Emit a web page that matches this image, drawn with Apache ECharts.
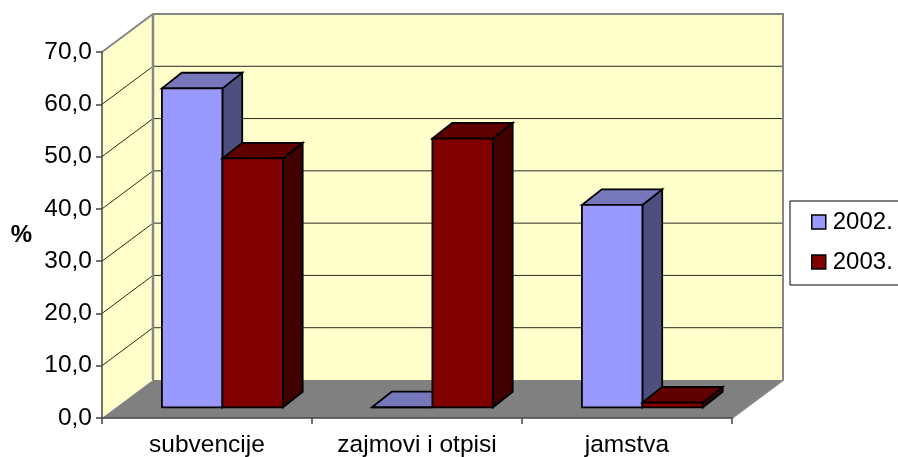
<!DOCTYPE html>
<html>
<head>
<meta charset="utf-8">
<style>html,body{margin:0;padding:0;background:#fff}#main{width:898px;height:457px}</style>
<script src="https://cdn.jsdelivr.net/npm/echarts@6/dist/echarts.min.js"></script>
</head>
<body>
<div id="main"></div>
<script>
var categories = ['subvencije', 'zajmovi i otpisi', 'jamstva'];
var values2002 = [61.0, 0, 38.7];
var values2003 = [47.6, 51.4, 0.9];
var yTicks = [10, 20, 30, 40, 50, 60];

var chart = echarts.init(document.getElementById('main'));

// depth of the box and of the bars, in px
var wallDx = 51, wallDy = -38;
var barStartDx = 15.4, barStartDy = -10.7;
var barDx = 19.8, barDy = -15.6;
var barShare = 0.288;
var font = 'Liberation Sans, Arial, sans-serif';

function poly(points, fill, stroke, width) {
    return {
        type: 'polygon',
        shape: { points: points },
        style: { fill: fill, stroke: stroke, lineWidth: width, lineJoin: 'miter' }
    };
}

function renderWalls(params, api) {
    var c = params.coordSys;
    var l = c.x, r = c.x + c.width, t = c.y, b = c.y + c.height;
    var children = [
        poly([[l, t], [l + wallDx, t + wallDy], [l + wallDx, b + wallDy], [l, b]], '#ffffcc', null, 0),
        poly([[l + wallDx, t + wallDy], [r + wallDx, t + wallDy], [r + wallDx, b + wallDy], [l + wallDx, b + wallDy]], '#ffffcc', null, 0)
    ];
    yTicks.forEach(function (v) {
        var y = api.coord([0, v])[1];
        children.push({ type: 'polyline', shape: { points: [[l, y], [l + wallDx, y + wallDy], [r + wallDx, y + wallDy]] },
            style: { fill: null, stroke: '#2b2b20', lineWidth: 1 } });
    });
    children.push(poly([[l, b], [r, b], [r + wallDx, b + wallDy], [l + wallDx, b + wallDy]], '#808080', null, 0));
    children.push({ type: 'polyline', shape: { points: [[l, t], [l + wallDx, t + wallDy], [r + wallDx, t + wallDy], [r + wallDx, b + wallDy], [r, b]] },
        style: { fill: null, stroke: '#868686', lineWidth: 2 } });
    children.push({ type: 'line', shape: { x1: l + wallDx, y1: t + wallDy, x2: l + wallDx, y2: b + wallDy },
        style: { stroke: '#868686', lineWidth: 2.5 } });
    return { type: 'group', children: children };
}

function barRenderer(index, front, top, side) {
    return function (params, api) {
        var base = api.coord([api.value(0), 0]);
        var head = api.coord([api.value(0), api.value(1)]);
        var w = api.size([1, 0])[0] * barShare;
        var x0 = base[0] + barStartDx + (index - 1) * w;
        var x1 = x0 + w;
        var yb = base[1] + barStartDy;
        var yt = head[1] + barStartDy;
        return {
            type: 'group',
            children: [
                poly([[x1, yt], [x1 + barDx, yt + barDy], [x1 + barDx, yb + barDy], [x1, yb]], side, '#000', 1.8),
                poly([[x0, yt], [x0 + barDx, yt + barDy], [x1 + barDx, yt + barDy], [x1, yt]], top, '#000', 1.8),
                poly([[x0, yt], [x1, yt], [x1, yb], [x0, yb]], front, '#000', 1.8)
            ]
        };
    };
}

chart.setOption({
    animation: false,
    backgroundColor: '#fff',
    grid: { left: 102, top: 52, width: 630, height: 366, outerBoundsMode: 'none' },
    legend: {
        left: 790, top: 201, orient: 'vertical',
        data: ['2002.', '2003.'],
        icon: 'rect',
        itemWidth: 14, itemHeight: 14, itemGap: 16,
        padding: [9, 8, 11, 21],
        backgroundColor: '#fff', borderColor: '#000', borderWidth: 1,
        itemStyle: { borderColor: '#000', borderWidth: 1.5 },
        textStyle: { fontFamily: font, fontSize: 24, color: '#000', padding: [0, 0, 0, 2] }
    },
    xAxis: {
        type: 'category', data: categories, z: 5,
        axisLine: { lineStyle: { color: '#444', width: 1.5 } },
        axisTick: { show: true, length: 6, lineStyle: { color: '#444', width: 1.5 } },
        axisLabel: { fontFamily: font, fontSize: 24.5, color: '#000', margin: 15 }
    },
    yAxis: {
        type: 'value', min: 0, max: 70, interval: 10, z: 5,
        name: '%', nameLocation: 'middle', nameRotate: 0, nameGap: 70,
        nameTextStyle: { fontFamily: font, fontSize: 24, fontWeight: 'bold', color: '#000', padding: [4, 0, 0, 0] },
        splitLine: { show: false },
        axisLine: { show: true, lineStyle: { color: '#444', width: 1.5 } },
        axisTick: { show: true, length: 6, lineStyle: { color: '#444', width: 1.5 } },
        axisLabel: {
            fontFamily: font, fontSize: 24.5, color: '#000', margin: 10,
            formatter: function (v) { return v.toFixed(1).replace('.', ','); }
        }
    },
    series: [
        { type: 'custom', name: 'walls', z: 1, silent: true, data: [[0, 0]], renderItem: renderWalls },
        {
            type: 'custom', name: '2002.', z: 3, silent: true,
            itemStyle: { color: '#9999ff' },
            data: values2002.map(function (v, i) { return [i, v]; }),
            encode: { x: 0, y: 1 },
            renderItem: barRenderer(0, '#9999ff', '#7777bb', '#4e4e7f')
        },
        {
            type: 'custom', name: '2003.', z: 4, silent: true,
            itemStyle: { color: '#800000' },
            data: values2003.map(function (v, i) { return [i, v]; }),
            encode: { x: 0, y: 1 },
            renderItem: barRenderer(1, '#800000', '#600000', '#400000')
        }
    ]
});
</script>
</body>
</html>
